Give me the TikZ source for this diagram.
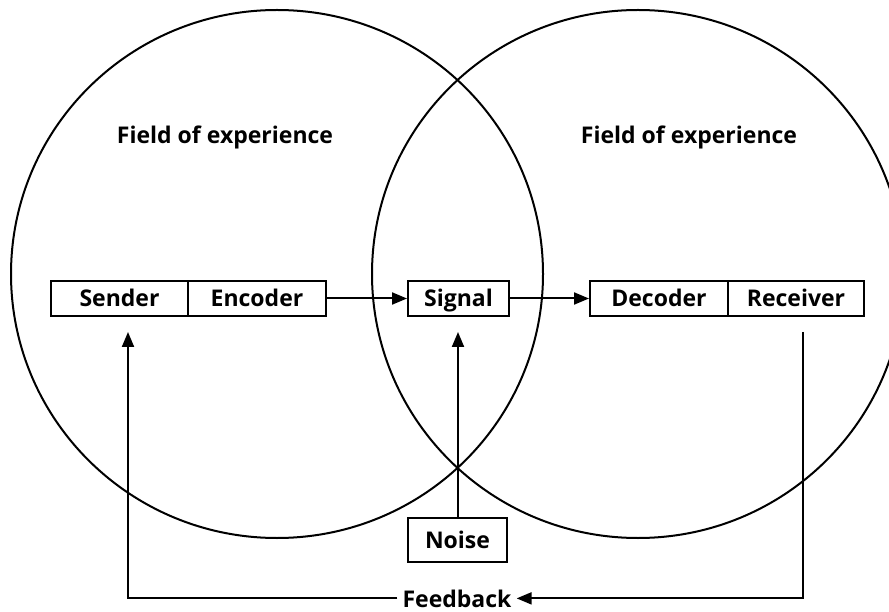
\documentclass[tikz,border=0pt]{standalone}
\usepackage{fontspec}
\setmainfont{Open Sans}
\usetikzlibrary{arrows.meta}
\begin{document}
\begin{tikzpicture}[x=1pt,y=-1pt,
  every node/.style={font=\bfseries\fontsize{23}{27}\selectfont},
  ring/.style={draw=black,line width=2pt},
  cell/.style={draw,line width=2pt,minimum height=35pt,inner sep=0pt,
    text height=18pt,text depth=1pt,anchor=north west},
  flow/.style={line width=2pt,-{Triangle[length=15pt,width=12pt]}},
  link/.style={line width=2pt}]
\useasboundingbox (0,0) rectangle (889,612);
% the two fields of experience
\draw[ring] (277,274) ellipse [x radius=266, y radius=264];
\draw[ring] (638,274) ellipse [x radius=266, y radius=264];
\node (fieldL) at (225,137) {Field of experience};
\node (fieldR) at (689,137) {Field of experience};
% process boxes
\node[cell,minimum width=137pt] (sender)   at (50,280)  {Sender};
\node[cell,minimum width=138pt] (encoder)  at (187,280) {Encoder};
\node[cell,minimum width=101pt] (signal)   at (407,280) {Signal};
\node[cell,minimum width=138pt] (decoder)  at (589,280) {Decoder};
\node[cell,minimum width=136pt] (receiver) at (727,280) {Receiver};
\node[cell,minimum width=99pt,minimum height=44pt] (noise) at (407,517) {Noise};
\node[inner xsep=5pt,inner ysep=1pt,anchor=base] (feedback) at (457,607) {Feedback};
% free ends of the feedback and noise lines
\coordinate (senderIn) at (128,332);
\coordinate (signalIn) at (458,332);
\coordinate (receiverOut) at (803,332);
% connectors
\draw[flow] (encoder.east) -- (signal.west);
\draw[flow] (signal.east) -- (decoder.west);
\draw[flow] (noise.north -| signalIn) -- (signalIn);
\draw[flow] (receiverOut) |- (feedback.east);
\draw[flow] (feedback.west) -| (senderIn);
\end{tikzpicture}
\end{document}
